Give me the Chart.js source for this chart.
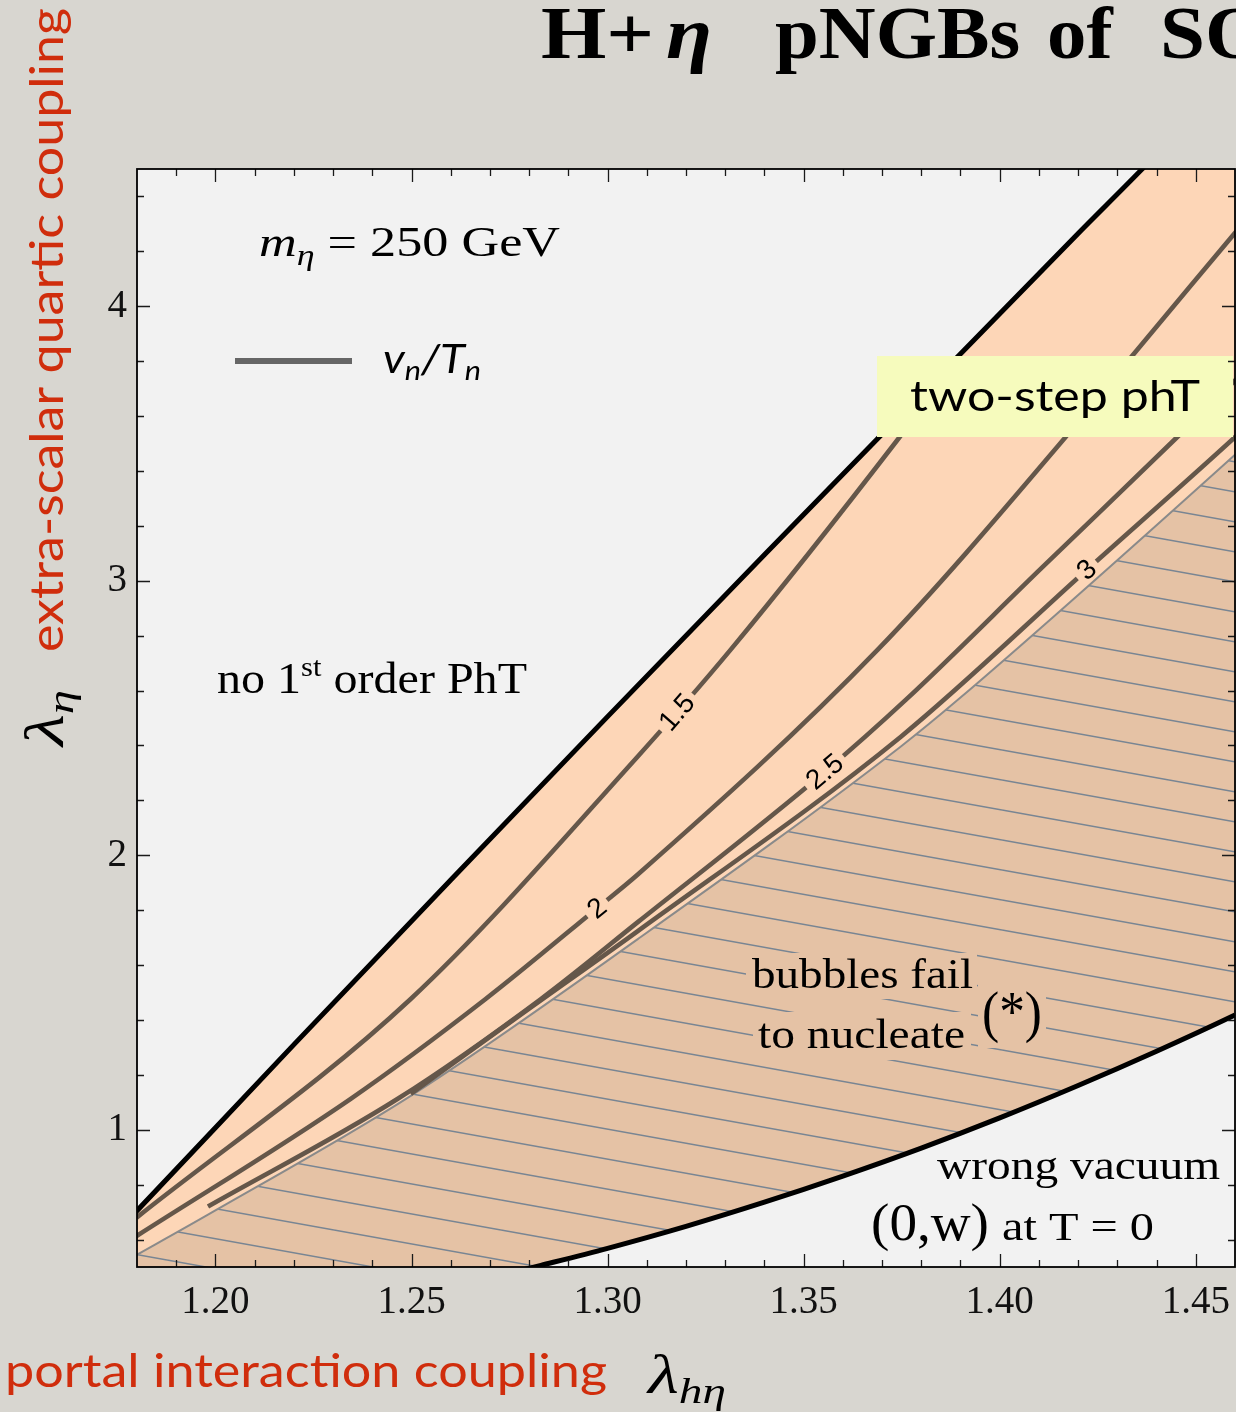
<!DOCTYPE html>
<html>
<head>
<meta charset="utf-8">
<title>H+η pNGBs — nucleation strength v_n/T_n</title>
<script src="https://cdn.jsdelivr.net/npm/chart.js@4.4.1/dist/chart.umd.min.js"></script>
<style>
  html, body { margin: 0; padding: 0; background: #d8d6d0; }
  body { width: 1236px; height: 1412px; overflow: hidden; }
  canvas { display: block; }
</style>
</head>
<body>
<canvas id="chart" width="1236" height="1412"></canvas>
<script>
// ---- axes -------------------------------------------------------------
const X_MIN = 1.18, X_MAX = 1.46, Y_MIN = 0.5, Y_MAX = 4.5;
const xTickValues = [1.20, 1.25, 1.30, 1.35, 1.40, 1.45];
const xTickLabels = ['1.20', '1.25', '1.30', '1.35', '1.40', '1.45'];
const yTickValues = [1, 2, 3, 4];
const yTickLabels = ['1', '2', '3', '4'];

// ---- region boundaries (λ_hη, λ_η) -------------------------------------
// upper edge of the first-order transition region
const upperEdgeX = [1.175, 1.18, 1.22, 1.26, 1.30, 1.34, 1.38, 1.42, 1.436, 1.47];
const upperEdgeY = [0.63, 0.705, 1.31, 1.91, 2.505, 3.095, 3.68, 4.265, 4.495, 5.0];
// below this curve bubbles fail to nucleate
const nucleationX = [1.175, 1.18, 1.198, 1.2498, 1.3077, 1.3748, 1.3894, 1.4605, 1.47];
const nucleationY = [0.505, 0.545, 0.69, 1.1236, 1.6945, 2.3964, 2.567, 3.4655, 3.59];
// below this curve the vacuum at T = 0 is (0,w)
const vacuumX = [1.27, 1.283, 1.30, 1.32, 1.34, 1.36, 1.38, 1.40, 1.42, 1.44, 1.46, 1.47];
const vacuumY = [0.46, 0.506, 0.568, 0.648, 0.736, 0.831, 0.933, 1.043, 1.161, 1.286, 1.418, 1.488];

// ---- v_n/T_n contours ----------------------------------------------------
const contour15X = [1.1799, 1.2498, 1.3077, 1.3314, 1.3743, 1.3888];
const contour15Y = [0.68, 1.4764, 2.36, 2.749, 3.52, 3.797];
const contour2X = [1.1797, 1.2345, 1.2689, 1.297, 1.3077, 1.3689, 1.4166, 1.4337, 1.4605, 1.47];
const contour2Y = [0.611, 1.1127, 1.4764, 1.8036, 1.93, 2.749, 3.52, 3.818, 4.276, 4.44];
const contour25X = [1.1981, 1.2465, 1.283, 1.3077, 1.3552, 1.3761, 1.4105, 1.4445, 1.47];
const contour25Y = [0.72, 1.1127, 1.4764, 1.7564, 2.3018, 2.567, 3.044, 3.5127, 3.87];
const contour3X = [1.2498, 1.28, 1.3077, 1.3748, 1.4223, 1.4605, 1.47];
const contour3Y = [1.131, 1.441, 1.7235, 2.432, 3.041, 3.53, 3.657];
const contourLevels = ['1.5', '2', '2.5', '3'];
const contourLabelX = [1.3177, 1.2973, 1.3554, 1.4222];

// ---- styling --------------------------------------------------------------
const PLOT_BG = '#f2f2f2';
const PEACH = '#fdd6b7';
const TAN = '#e5c2a5';
const HATCH_LINE = '#788593';
const CONTOUR = '#65574a';
const RED = '#d02d0c';
const SERIF = '"Liberation Serif", "Times New Roman", serif';
const SANS = 'Lato, "Open Sans", sans-serif';
const HELV = '"Liberation Sans", Arial, sans-serif';

const pts = (xs, ys) => xs.map((x, i) => ({ x, y: ys[i] }));

function hatchPattern() {
  const w = 167, h = 30;
  const c = document.createElement('canvas');
  c.width = w; c.height = h;
  const g = c.getContext('2d');
  g.fillStyle = TAN;
  g.fillRect(0, 0, w, h);
  g.strokeStyle = HATCH_LINE;
  g.lineWidth = 1.5;
  for (let k = -1; k <= 1; k++) {
    g.beginPath();
    g.moveTo(0, k * h);
    g.lineTo(w, k * h + h);
    g.stroke();
  }
  return g.createPattern(c, 'repeat');
}

const base = { pointRadius: 0, pointHoverRadius: 0, cubicInterpolationMode: 'monotone', clip: 0 };
const area = (data, bg, order) => ({ ...base, data, fill: 'start', backgroundColor: bg,
  borderColor: 'transparent', borderWidth: 0, order });
const curve = (data, color, width, order) => ({ ...base, data, fill: false, borderColor: color,
  borderWidth: width, order });

const contourSets = [
  pts(contour15X, contour15Y), pts(contour2X, contour2Y),
  pts(contour25X, contour25Y), pts(contour3X, contour3Y)
];

const datasets = [
  area(pts(upperEdgeX, upperEdgeY), PEACH, 30),
  area(pts(nucleationX, nucleationY), hatchPattern(), 29),
  area(pts(vacuumX, vacuumY), PLOT_BG, 28),
  curve(pts(nucleationX, nucleationY), '#8a8a8a', 2, 20),
  ...contourSets.map((d, i) => ({ ...curve(d, CONTOUR, 4.6, 10 + i), label: contourLevels[i] })),
  curve(pts(upperEdgeX, upperEdgeY), '#000', 5, 1),
  curve(pts(vacuumX, vacuumY), '#000', 5, 1)
];
const CONTOUR_INDEX0 = 4;

// ---- text helpers -------------------------------------------------------------
function run(ctx, x, y, segs, target, scaleX) {
  let natural = 0;
  for (const s of segs) { ctx.font = s.font; natural += ctx.measureText(s.t).width; }
  const k = target ? target / natural : (scaleX || 1);
  ctx.save();
  ctx.translate(x, y);
  ctx.scale(k, 1);
  let cx = 0;
  for (const s of segs) {
    ctx.font = s.font;
    ctx.fillStyle = s.color || '#000';
    ctx.fillText(s.t, cx, s.dy || 0);
    cx += ctx.measureText(s.t).width;
  }
  ctx.restore();
}

function bez(t, a, b, c, d) { const u = 1 - t; return u*u*u*a + 3*u*u*t*b + 3*u*t*t*c + t*t*t*d; }
function dbez(t, a, b, c, d) { const u = 1 - t; return 3*u*u*(b - a) + 6*u*t*(c - b) + 3*t*t*(d - c); }
function onCurve(meta, xp) {
  const p = meta.data;
  for (let i = 0; i < p.length - 1; i++) {
    const a = p[i], b = p[i + 1];
    if (xp < a.x || xp > b.x) continue;
    const ax = a.cp2x ?? a.x, ay = a.cp2y ?? a.y, bx = b.cp1x ?? b.x, by = b.cp1y ?? b.y;
    let lo = 0, hi = 1;
    for (let k = 0; k < 40; k++) {
      const m = (lo + hi) / 2;
      if (bez(m, a.x, ax, bx, b.x) < xp) lo = m; else hi = m;
    }
    const t = (lo + hi) / 2;
    return {
      x: bez(t, a.x, ax, bx, b.x), y: bez(t, a.y, ay, by, b.y),
      angle: Math.atan2(dbez(t, a.y, ay, by, b.y), dbez(t, a.x, ax, bx, b.x))
    };
  }
  return null;
}

// ---- plugins ---------------------------------------------------------------------
const plotDecor = {
  id: 'plotDecor',
  beforeDatasetsDraw(chart) {
    const { ctx, chartArea: a } = chart;
    ctx.save();
    ctx.fillStyle = PLOT_BG;
    ctx.fillRect(a.left, a.top, a.right - a.left, a.bottom - a.top);
    ctx.restore();
  },
  afterDatasetsDraw(chart) {
    const { ctx, chartArea: a, scales } = chart;
    const xs = scales.x, ys = scales.y;
    ctx.save();
    ctx.beginPath();
    ctx.rect(a.left, a.top, a.right - a.left, a.bottom - a.top);
    ctx.clip();

    // contour value labels, set into the lines
    ctx.font = '28px ' + HELV;
    ctx.textAlign = 'center';
    ctx.textBaseline = 'middle';
    contourLevels.forEach((lab, i) => {
      const meta = chart.getDatasetMeta(CONTOUR_INDEX0 + i);
      const p = onCurve(meta, xs.getPixelForValue(contourLabelX[i]));
      if (!p) return;
      const w = ctx.measureText(lab).width;
      ctx.save();
      ctx.translate(p.x, p.y);
      ctx.rotate(p.angle);
      ctx.fillStyle = PEACH;
      ctx.fillRect(-w / 2 - 5, -5.5, w + 10, 11);
      ctx.fillStyle = '#000';
      ctx.fillText(lab, 0, 1);
      ctx.restore();
    });
    ctx.textAlign = 'left';
    ctx.textBaseline = 'alphabetic';

    // region labels
    ctx.fillStyle = TAN;
    ctx.fillRect(746, 953, 231, 46);
    ctx.fillRect(753, 1012, 218, 48);
    ctx.fillRect(978, 980, 68, 68);
    run(ctx, 752, 988, [{ t: 'bubbles fail', font: '42px ' + SERIF }], 221);
    run(ctx, 758, 1048, [{ t: 'to nucleate', font: '42px ' + SERIF }], 207);
    run(ctx, 982, 1031, [{ t: '(*)', font: '58px ' + SERIF }], 60);

    run(ctx, 937, 1179, [{ t: 'wrong vacuum', font: '41px ' + SERIF }], 283);
    run(ctx, 871, 1240, [{ t: '(0,w)', font: '52px ' + SERIF }], 118);
    run(ctx, 1002, 1240, [{ t: 'at T = 0', font: '41px ' + SERIF }], 152);

    run(ctx, 217, 693, [
      { t: 'no 1', font: '44px ' + SERIF },
      { t: 'st', font: '28px ' + SERIF, dy: -17 },
      { t: ' order PhT', font: '44px ' + SERIF }
    ], 310);

    run(ctx, 259, 256, [
      { t: 'm', font: 'italic 42px ' + SERIF },
      { t: 'η', font: 'italic 29px ' + SERIF, dy: 9 },
      { t: ' = 250 GeV', font: '42px ' + SERIF }
    ], 301);

    // legend
    ctx.strokeStyle = '#666';
    ctx.lineWidth = 6;
    ctx.beginPath();
    ctx.moveTo(235, 361);
    ctx.lineTo(352, 361);
    ctx.stroke();
    run(ctx, 383, 373, [
      { t: 'v', font: 'italic 40px ' + SANS },
      { t: 'n', font: 'italic 27px ' + SANS, dy: 7 },
      { t: '/', font: 'italic 40px ' + SANS },
      { t: 'T', font: 'italic 40px ' + SANS },
      { t: 'n', font: 'italic 27px ' + SANS, dy: 7 }
    ], 98);

    // two-step box
    ctx.fillStyle = '#f6fbbd';
    ctx.fillRect(877, 356, 356, 81);
    run(ctx, 910, 411, [{ t: 'two-step phT', font: '43px ' + SANS }], 290);
    ctx.restore();

    // frame and inward ticks (major + minor)
    ctx.save();
    ctx.strokeStyle = '#1a1a1a';
    ctx.lineWidth = 1.3;
    ctx.beginPath();
    for (let k = 119; k <= 145; k++) {
      const px = Math.round(xs.getPixelForValue(k / 100)) + 0.5;
      const len = k % 5 === 0 ? 13 : 7;
      ctx.moveTo(px, a.bottom); ctx.lineTo(px, a.bottom - len);
      ctx.moveTo(px, a.top); ctx.lineTo(px, a.top + len);
    }
    for (let k = 3; k <= 22; k++) {
      const py = Math.round(ys.getPixelForValue(k / 5)) + 0.5;
      const len = k % 5 === 0 ? 13 : 7;
      ctx.moveTo(a.left, py); ctx.lineTo(a.left + len, py);
      ctx.moveTo(a.right, py); ctx.lineTo(a.right - len, py);
    }
    ctx.stroke();
    ctx.lineWidth = 1.8;
    ctx.strokeStyle = '#000';
    ctx.strokeRect(a.left, a.top, a.right - a.left, a.bottom - a.top);
    ctx.restore();
  },
  afterDraw(chart) {
    const ctx = chart.ctx;
    ctx.save();
    // slide title
    const tf = 'bold 75px ' + SERIF;
    run(ctx, 541, 58, [{ t: 'H+', font: tf }], 0, 1.12);
    run(ctx, 666, 58, [{ t: 'η', font: 'bold italic 75px ' + SERIF }], 0, 1.12);
    run(ctx, 775, 58, [{ t: 'pNGBs', font: tf }], 0, 1.05);
    run(ctx, 1047, 58, [{ t: 'of', font: tf }], 0, 1.05);
    run(ctx, 1160, 58, [{ t: 'SO', font: tf }], 0, 1.08);
    // axis titles
    run(ctx, 5, 1387, [{ t: 'portal interaction coupling', font: '46px ' + SANS, color: RED }], 602);
    run(ctx, 648, 1393, [
      { t: 'λ', font: 'italic 54px ' + SERIF },
      { t: 'hη', font: 'italic 36px ' + SERIF, dy: 10 }
    ], 78);
    ctx.save();
    ctx.translate(63, 652);
    ctx.rotate(-Math.PI / 2);
    run(ctx, 0, 0, [{ t: 'extra-scalar quartic coupling', font: '46px ' + SANS, color: RED }], 644);
    ctx.restore();
    ctx.save();
    ctx.translate(63, 746);
    ctx.rotate(-Math.PI / 2);
    run(ctx, 0, 0, [
      { t: 'λ', font: 'italic 54px ' + SERIF },
      { t: 'η', font: 'italic 36px ' + SERIF, dy: 10 }
    ], 56);
    ctx.restore();
    ctx.restore();
  }
};

new Chart(document.getElementById('chart'), {
  type: 'line',
  data: { datasets },
  options: {
    responsive: false,
    animation: false,
    devicePixelRatio: 1,
    events: [],
    layout: { padding: { top: 169, right: 1, left: 0, bottom: 0 } },
    elements: { line: { capBezierPoints: false } },
    plugins: { legend: { display: false }, tooltip: { enabled: false } },
    scales: {
      x: {
        type: 'linear', min: X_MIN, max: X_MAX,
        grid: { display: false, drawTicks: false },
        border: { display: false },
        afterBuildTicks: s => { s.ticks = xTickValues.map(v => ({ value: v })); },
        afterFit: s => { s.height = 145; s.paddingLeft = 0; s.paddingRight = 0; },
        ticks: {
          autoSkip: false, maxRotation: 0, padding: 12, color: '#111',
          font: { family: SERIF, size: 39 },
          callback: v => xTickLabels[xTickValues.findIndex(t => Math.abs(t - v) < 1e-9)]
        }
      },
      y: {
        type: 'linear', min: Y_MIN, max: Y_MAX,
        grid: { display: false, drawTicks: false },
        border: { display: false },
        afterBuildTicks: s => { s.ticks = yTickValues.map(v => ({ value: v })); },
        afterFit: s => { s.width = 137; s.paddingTop = 0; s.paddingBottom = 0; },
        ticks: {
          autoSkip: false, padding: 10, color: '#111',
          font: { family: SERIF, size: 39 },
          callback: v => yTickLabels[yTickValues.findIndex(t => Math.abs(t - v) < 1e-9)]
        }
      }
    }
  },
  plugins: [plotDecor]
});
</script>
</body>
</html>
